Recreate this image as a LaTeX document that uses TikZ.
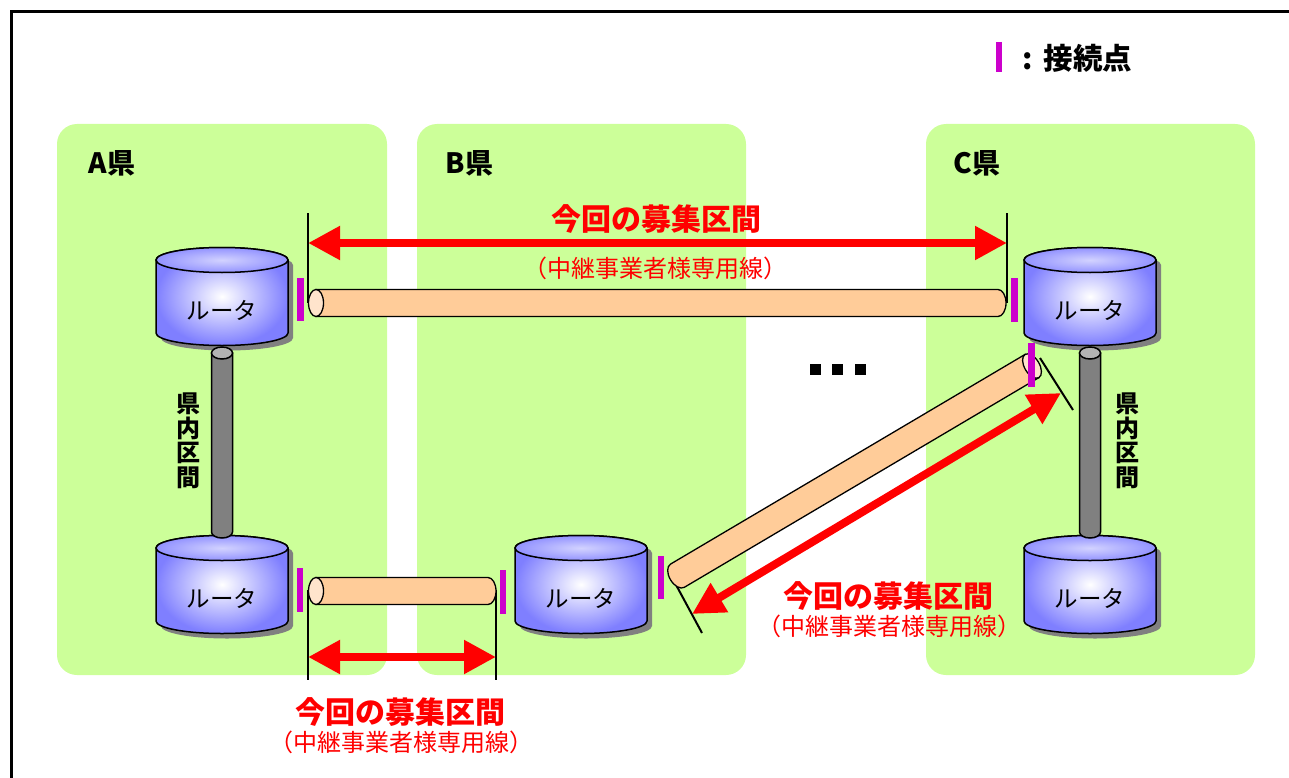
\documentclass[tikz,border=0pt]{standalone}
\usepackage{fontspec}
\newfontfamily\jp{Noto Sans CJK JP}
\usetikzlibrary{arrows.meta}
\definecolor{ken}{HTML}{CCFF99}
\definecolor{rblue}{HTML}{7F7FFF}
\definecolor{peach}{HTML}{FFCC99}
\definecolor{peachcap}{HTML}{FFE4CC}
\definecolor{mag}{HTML}{CC00CC}
\definecolor{pipegray}{HTML}{808080}
\definecolor{pipecap}{HTML}{B3B3B3}
\tikzset{
	region/.style={fill=ken, rounded corners=20pt},
	kenlabel/.style={anchor=west, font=\jp\bfseries\fontsize{28}{30}\selectfont},
	rtext/.style={font=\jp\fontsize{23.5}{25}\selectfont},
	vtext/.style={align=center, font=\jp\bfseries\fontsize{24}{24.5}\selectfont},
	tubeline/.style={draw=black, line width=1.3pt},
	cpoint/.style={draw=mag, line width=6.5pt},
	tick/.style={draw=black, line width=2pt},
	redarrow/.style={draw=red, line width=8pt, {Triangle[width=32pt,length=32pt]}-{Triangle[width=32pt,length=32pt]}},
	redtitle/.style={text=red, font=\jp\bfseries\fontsize{30}{32}\selectfont},
	redsub/.style={text=red, font=\jp\fontsize{24}{25}\selectfont}
}
% #1 name, #2 centre x, #3 top y
\newcommand{\router}[3]{%
	\fill[pipegray] ({#2-61},{#3+5}) arc[start angle=180,end angle=0,x radius=66pt,y radius=12.5pt] -- ({#2+71},{#3+78}) arc[start angle=0,end angle=-180,x radius=66pt,y radius=12.5pt] -- cycle;
	\shadedraw[inner color=white, outer color=rblue, line width=1.5pt] ({#2-66},#3) arc[start angle=180,end angle=0,x radius=66pt,y radius=12.5pt] -- ({#2+66},{#3+73}) arc[start angle=0,end angle=-180,x radius=66pt,y radius=12.5pt] -- cycle;
	\shadedraw[inner color=white!65!rblue, outer color=rblue!85, line width=1.5pt] (#2,#3) ellipse[x radius=66pt,y radius=12.5pt];
	\node [rtext] (#1) at (#2,{#3+50}) {ルータ};
}
% #1 x, #2 top y, #3 bottom y
\newcommand{\pipe}[3]{%
	\draw[fill=pipegray, line width=1.5pt] ({#1-10.5},#2) -- ({#1-10.5},{#3-6}) arc[start angle=180,end angle=360,x radius=10.5pt,y radius=6pt] -- ({#1+10.5},#2) -- cycle;
	\draw[fill=pipecap, line width=1.5pt] (#1,#2) ellipse[x radius=10.5pt,y radius=6pt];
}
% #1 cap centre, #2 angle, #3 length
\newcommand{\tube}[3]{%
	\begin{scope}[shift={#1}, rotate=#2]
		\draw[tubeline, fill=peach] (0pt,-13.5pt) -- ({#3pt-8pt},-13.5pt) arc[start angle=-90,end angle=90,x radius=8pt,y radius=13.5pt] -- (0pt,13.5pt) -- cycle;
		\draw[tubeline, fill=peachcap] (0pt,0pt) ellipse[x radius=7.5pt,y radius=13.5pt];
	\end{scope}
}
\begin{document}
\begin{tikzpicture}[x=1pt, y=-1pt]
	\useasboundingbox (0,0) rectangle (1289,778);
	\clip (0,0) rectangle (1289,778);
	\draw [line width=3pt] (11.5,11.5) rectangle (1320,800);

	\fill [region] (57,124) rectangle (387,675);
	\fill [region] (417,124) rectangle (746,675);
	\fill [region] (926,124) rectangle (1255,675);
	\node [kenlabel] (ka) at (85,163) {A県};
	\node [kenlabel] (kb) at (442,163) {B県};
	\node [kenlabel] (kc) at (950,163) {C県};

	\draw [cpoint] (999,42) -- (999,72);
	\node [anchor=west, font=\jp\bfseries\fontsize{29.5}{30}\selectfont] (legend) at (1019,58) {:\hspace{11pt}接続点};

	% ticks
	\coordinate (ta1) at (308,213); \coordinate (ta2) at (308,303);
	\coordinate (tb1) at (1007,213); \coordinate (tb2) at (1007,303);
	\coordinate (tc1) at (308,590); \coordinate (tc2) at (308,680);
	\coordinate (td1) at (496,590); \coordinate (td2) at (496,680);
	\coordinate (te1) at (668,570); \coordinate (te2) at (702,633);
	\coordinate (tf1) at (1040,358); \coordinate (tf2) at (1073,410);
	\draw [tick] (ta1) -- (ta2);
	\draw [tick] (tb1) -- (tb2);
	\draw [tick] (tc1) -- (tc2);
	\draw [tick] (td1) -- (td2);
	\draw [tick] (te1) -- (te2);
	\draw [tick] (tf1) -- (tf2);

	\foreach \n/\x/\y in {ra1/222/260, ra2/222/548, rb/581/548, rc1/1090/260, rc2/1090/548} {
		\router{\n}{\x}{\y}
	}
	\pipe{222}{353}{538}
	\pipe{1090}{353}{538}
	\node [vtext] (va) at (188,441) {県\\内\\区\\間};
	\node [vtext] (vc) at (1127,441) {県\\内\\区\\間};

	\tube{(316,303)}{0}{690}
	\tube{(316,591)}{0}{180}
	\tube{(1032,366)}{210.6}{420}

	\draw [cpoint] (300.5,278) -- (300.5,321);
	\draw [cpoint] (1014.5,278) -- (1014.5,322);
	\draw [cpoint] (1031.5,343) -- (1031.5,387);
	\draw [cpoint] (300,568) -- (300,612);
	\draw [cpoint] (503,570) -- (503,614);
	\draw [cpoint] (661,556) -- (661,599);

	\foreach \x in {815, 837, 860} {
		\fill (\x-5.5,363.5) rectangle +(11,11);
	}

	\coordinate (aa) at (308,243); \coordinate (ab) at (1007,243);
	\coordinate (ac) at (308,657); \coordinate (ad) at (496,657);
	\coordinate (ae) at (692,614); \coordinate (af) at (1061,393);
	\draw [redarrow] (aa) -- (ab);
	\draw [redarrow] (ac) -- (ad);
	\draw [redarrow] (ae) -- (af);

	\node [redtitle] (t1) at (656,219) {今回の募集区間};
	\node [redsub] (s1) at (655,268) {（中継事業者様専用線）};
	\node [redtitle] (t2) at (400,712) {今回の募集区間};
	\node [redsub] (s2) at (401,742) {（中継事業者様専用線）};
	\node [redtitle] (t3) at (888,596) {今回の募集区間};
	\node [redsub] (s3) at (889,626) {（中継事業者様専用線）};
\end{tikzpicture}
\end{document}
